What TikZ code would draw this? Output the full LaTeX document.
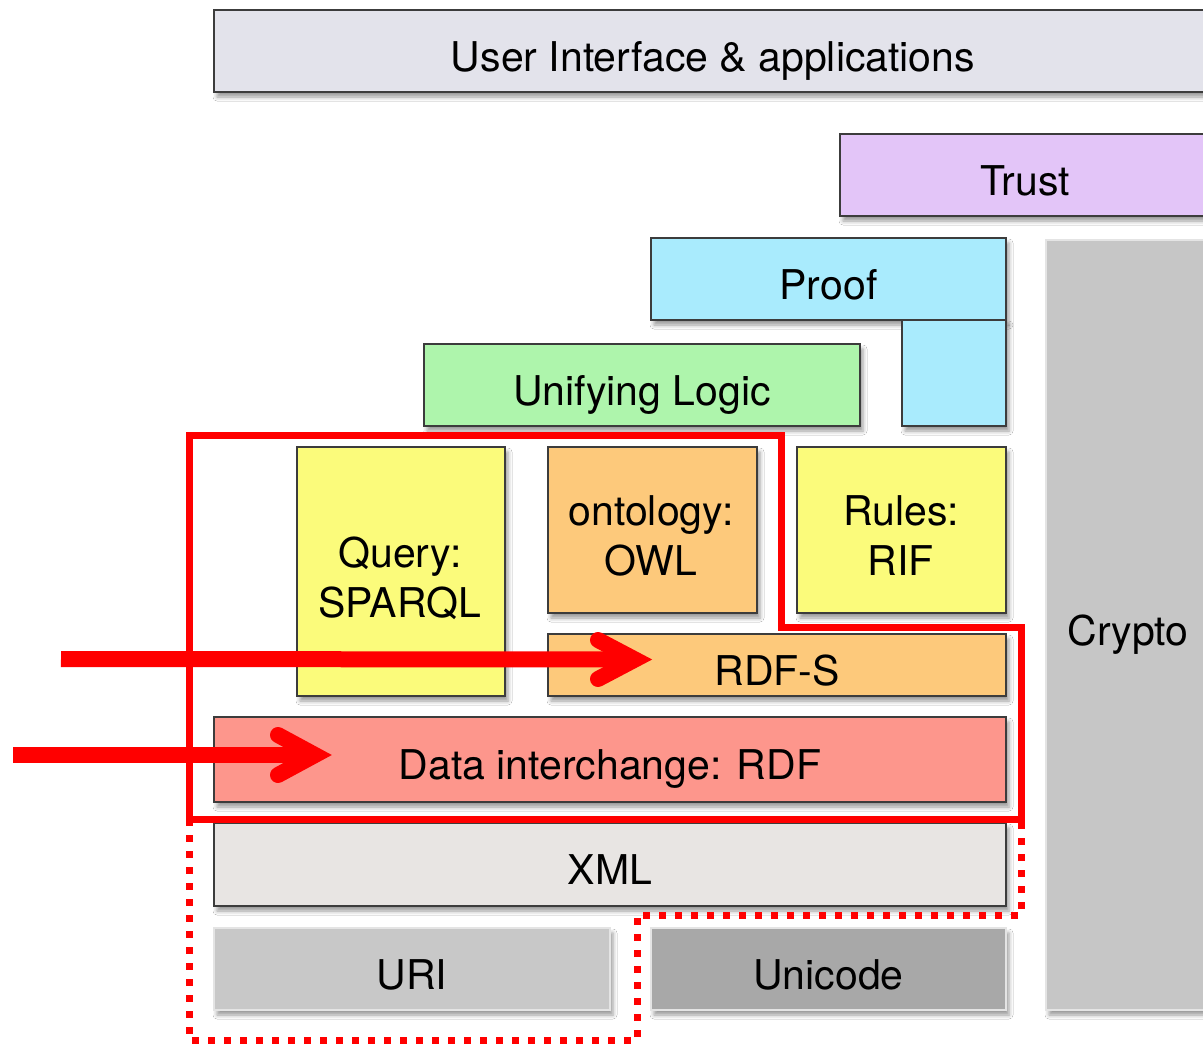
\documentclass[tikz,border=0pt]{standalone}
\usepackage{fontspec}
\setmainfont{TeX Gyre Heros}
\usetikzlibrary{shadows.blur}
\definecolor{cUI}{HTML}{E3E3EB}
\definecolor{cTrust}{HTML}{E3C5F8}
\definecolor{cProof}{HTML}{A9EBFD}
\definecolor{cCrypto}{HTML}{C6C6C6}
\definecolor{cLogic}{HTML}{AEF5AC}
\definecolor{cYellow}{HTML}{FBFB7B}
\definecolor{cOrange}{HTML}{FDC97B}
\definecolor{cRDF}{HTML}{FD968C}
\definecolor{cXML}{HTML}{E8E5E3}
\definecolor{cURI}{HTML}{C8C8C8}
\definecolor{cUnicode}{HTML}{A8A8A8}
\definecolor{cEdge}{HTML}{3C3C3C}
\definecolor{cLight}{HTML}{E4E4E4}
\definecolor{cRed}{HTML}{FF0000}
\begin{document}
\begin{tikzpicture}[x=1pt,y=-1pt,
  layerbox/.style={draw=cEdge, line width=2pt, inner sep=0pt,
    font=\fontsize{41}{50}\selectfont, text height=40pt, text depth=0pt,
    blur shadow={shadow xshift=3pt, shadow yshift=-5pt, shadow blur radius=4pt, shadow opacity=40}},
  graybox/.style={layerbox, draw=cLight},
  plainbox/.style={layerbox, text height=, text depth=},
  txt/.style={inner sep=0pt, font=\fontsize{41}{50}\selectfont, align=center},
  redline/.style={draw=cRed, line width=7pt, miter limit=10},
  reddots/.style={draw=cRed, line width=7pt, dash pattern=on 7pt off 9pt},
  shaft/.style={draw=cRed, line width=16pt},
  chevron/.style={draw=cRed, line width=16pt, line cap=round, line join=miter}
]
\useasboundingbox (0,0) rectangle (1203,1044);
\fill[white] (0,0) rectangle (1203,1044);

% layers
\node[layerbox, fill=cUI, minimum width=998pt, minimum height=82pt] (ui) at (713,51) {User Interface \& applications};
\node[layerbox, fill=cTrust, minimum width=370pt, minimum height=82pt] (trust) at (1025,175) {Trust};
\node[graybox, fill=cCrypto, minimum width=164pt, minimum height=770pt] (crypto) at (1128,625) {Crypto};
\node[layerbox, fill=cProof, minimum width=355pt, minimum height=82pt] (proof) at (828.5,279) {Proof};
\node[layerbox, fill=cProof, minimum width=104pt, minimum height=106pt] (proofleg) at (954,373) {};
\node[layerbox, fill=cLogic, minimum width=436pt, minimum height=82pt] (logic) at (642,385) {Unifying Logic};
\node[plainbox, fill=cYellow, minimum width=208pt, minimum height=249pt] (query) at (401,571.5) {};
\node[txt] (querytxt) at (400,578) {Query:\\SPARQL};
\node[plainbox, fill=cOrange, minimum width=209pt, minimum height=166pt] (owl) at (652.5,530) {};
\node[txt] (owltxt) at (651,536) {ontology:\\OWL};
\node[plainbox, fill=cYellow, minimum width=209pt, minimum height=166pt] (rif) at (901.5,530) {};
\node[txt] (riftxt) at (901,536) {Rules:\\RIF};
\node[layerbox, fill=cOrange, minimum width=458pt, minimum height=62pt] (rdfs) at (777,665) {RDF-S};
\node[layerbox, fill=cRDF, minimum width=792pt, minimum height=85pt] (rdf) at (610,759.5) {Data interchange: RDF};
\node[layerbox, fill=cXML, minimum width=792pt, minimum height=83pt] (xml) at (610,864.5) {XML};
\node[graybox, fill=cURI, minimum width=396pt, minimum height=82pt] (uri) at (412,969) {URI};
\node[graybox, fill=cUnicode, minimum width=355pt, minimum height=82pt] (unicode) at (828.5,969) {Unicode};

% red outlines
\coordinate (r1) at (189,435.5);
\coordinate (r2) at (781,435.5);
\coordinate (r3) at (781,627);
\coordinate (r4) at (1021,627);
\coordinate (r5) at (1021,819);
\coordinate (r6) at (189,819);
\draw[redline] (r1) -- (r2) -- (r3) -- (r4) -- (r5) -- (r6) -- cycle;
\coordinate (d1) at (189,1040);
\coordinate (d2) at (637,1040);
\coordinate (d3) at (637,915);
\coordinate (d4) at (1021,915);
\draw[reddots] (r6) -- (d1) -- (d2) -- (d3) -- (d4) -- (r5);

% arrows
\coordinate (a1s) at (61,659);
\coordinate (a1t) at (635,659.5);
\coordinate (a1u) at (598,640);
\coordinate (a1d) at (598,679);
\draw[shaft] (a1s) -- (a1t);
\draw[chevron] (a1u) -- (a1t) -- (a1d);
\coordinate (a2s) at (13,755);
\coordinate (a2t) at (315,755);
\coordinate (a2u) at (278,735);
\coordinate (a2d) at (278,775);
\draw[shaft] (a2s) -- (a2t);
\draw[chevron] (a2u) -- (a2t) -- (a2d);
\end{tikzpicture}
\end{document}
